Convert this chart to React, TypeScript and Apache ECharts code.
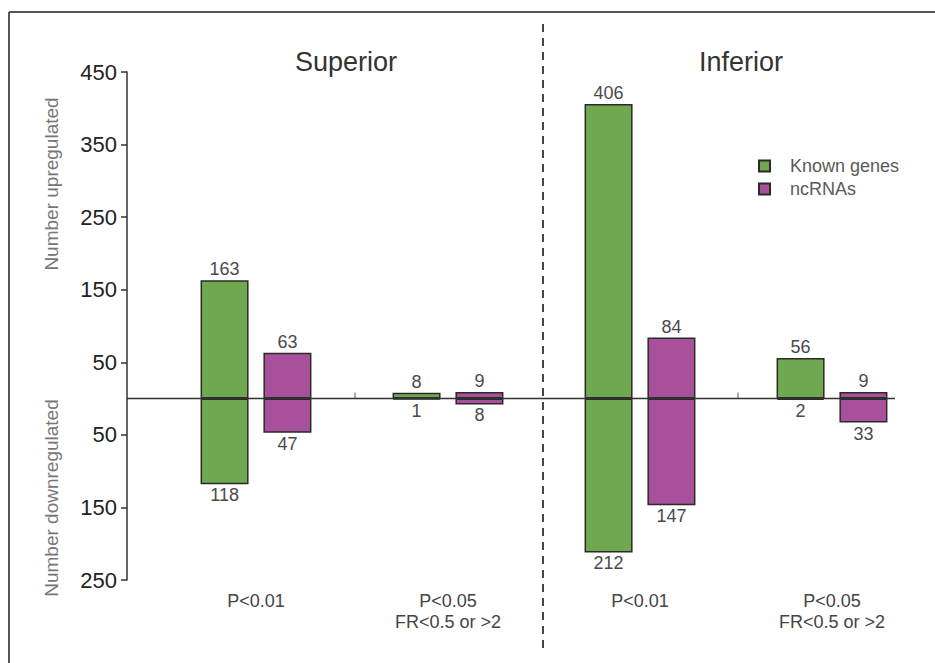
import React, { useEffect, useRef } from 'react';
import * as echarts from 'echarts';

const categories = ['P<0.01', 'P<0.05\nFR<0.5 or >2', 'P<0.01', 'P<0.05\nFR<0.5 or >2'];
const knownUp = [163, 8, 406, 56];
const knownDown = [118, 1, 212, 2];
const ncUp = [63, 9, 84, 9];
const ncDown = [47, 8, 147, 33];
const yTicks = [-250, -150, -50, 50, 150, 250, 350, 450];
const panelTitles = ['Superior', 'Inferior'];
const seriesNames = ['Known genes', 'ncRNAs'];
const yNames = ['Number upregulated', 'Number downregulated'];

const GREEN = '#6fa84e';
const MAGENTA = '#a8509c';
const FONT = 'Liberation Sans, Arial, sans-serif';

export default function App() {
  const ref = useRef<HTMLDivElement>(null);
  useEffect(() => {
    if (!ref.current) return;
    const chart = echarts.init(ref.current, null, { renderer: 'svg' });
    const mk = (name: string, data: number[], stack: string, color: string, pos: string) => ({
      type: 'bar',
      name,
      stack,
      data,
      barWidth: 48,
      barGap: '31%',
      itemStyle: { color, borderColor: '#2a2a2a', borderWidth: 1.5 },
      label: {
        show: true,
        position: pos,
        distance: 2,
        fontSize: 18,
        color: '#4a4a4a',
        fontFamily: FONT,
        formatter: (p: any) => String(Math.abs(p.value)),
      },
    });
    const option: any = {
      animation: false,
      backgroundColor: '#fff',
      textStyle: { fontFamily: FONT },
      grid: { left: 160, right: 7, top: 72, bottom: 83 },
      legend: {
        data: seriesNames,
        orient: 'vertical',
        left: 753,
        top: 152,
        itemWidth: 11,
        itemHeight: 11,
        itemGap: 5,
        icon: 'rect',
        textStyle: { fontSize: 18, color: '#5a5a5a', padding: [0, 0, 0, 15], fontFamily: FONT },
      },
      xAxis: {
        type: 'category',
        data: categories,
        axisLine: { show: false },
        axisTick: { show: false },
        axisLabel: { interval: 0, fontSize: 18, lineHeight: 21, color: '#444', margin: 10, fontFamily: FONT },
      },
      yAxis: {
        type: 'value',
        min: -250,
        max: 450,
        offset: 33,
        splitLine: { show: false },
        axisLine: { show: true, lineStyle: { color: '#333', width: 1.5 } },
        axisTick: { show: true, inside: false, length: 6, customValues: yTicks, lineStyle: { color: '#333', width: 1.5 } },
        axisLabel: {
          customValues: yTicks,
          formatter: (v: number) => String(Math.abs(v)),
          fontSize: 22,
          color: '#222',
          margin: 10,
          fontFamily: FONT,
        },
      },
      series: [
        mk(seriesNames[0], knownUp, 'known', GREEN, 'top'),
        mk(seriesNames[0], knownDown.map((v) => -v), 'known', GREEN, 'bottom'),
        mk(seriesNames[1], ncUp, 'nc', MAGENTA, 'top'),
        mk(seriesNames[1], ncDown.map((v) => -v), 'nc', MAGENTA, 'bottom'),
      ],
    };
    chart.setOption(option);

    const cx = (i: number) => chart.convertToPixel({ xAxisIndex: 0 }, i) as number;
    const cy = (v: number) => chart.convertToPixel({ yAxisIndex: 0 }, v) as number;
    const band = cx(1) - cx(0);
    const gridLeft = cx(0) - band / 2;
    const axisX = gridLeft - 33;
    const y0 = cy(0);
    const b1 = (cx(0) + cx(1)) / 2;
    const b2 = (cx(1) + cx(2)) / 2;
    const b3 = (cx(2) + cx(3)) / 2;
    const stroke = '#333';

    chart.setOption({
      graphic: [
        { type: 'line', shape: { x1: 9, y1: 12, x2: 935, y2: 12 }, style: { stroke: '#555', lineWidth: 2 } },
        { type: 'line', shape: { x1: 9, y1: 12, x2: 9, y2: 663 }, style: { stroke: '#555', lineWidth: 2 } },
        { type: 'line', z: 10, shape: { x1: axisX, y1: y0, x2: cx(3) + 63, y2: y0 }, style: { stroke, lineWidth: 1.5 } },
        { type: 'line', shape: { x1: b1 + 3, y1: y0 - 6, x2: b1 + 3, y2: y0 }, style: { stroke: '#555', lineWidth: 1 } },
        { type: 'line', shape: { x1: b3 + 2, y1: y0 - 6, x2: b3 + 2, y2: y0 }, style: { stroke: '#555', lineWidth: 1 } },
        {
          type: 'line',
          shape: { x1: b2 - 1, y1: 24, x2: b2 - 1, y2: 650 },
          style: { stroke: '#444', lineWidth: 2, lineDash: [8, 6] },
        },
        {
          type: 'text',
          x: b1 - 6,
          y: 62,
          style: { text: panelTitles[0], fontSize: 27, fill: '#333', fontFamily: FONT, align: 'center', verticalAlign: 'middle' },
        },
        {
          type: 'text',
          x: b3 + 5,
          y: 62,
          style: { text: panelTitles[1], fontSize: 27, fill: '#333', fontFamily: FONT, align: 'center', verticalAlign: 'middle' },
        },
        {
          type: 'text',
          x: 51,
          y: 184,
          rotation: Math.PI / 2,
          style: { text: yNames[0], fontSize: 19, fill: '#777', fontFamily: FONT, align: 'center', verticalAlign: 'middle' },
        },
        {
          type: 'text',
          x: 51,
          y: 498,
          rotation: Math.PI / 2,
          style: { text: yNames[1], fontSize: 19, fill: '#777', fontFamily: FONT, align: 'center', verticalAlign: 'middle' },
        },
      ],
    });

    return () => chart.dispose();
  }, []);
  return (
    <div
      ref={ref}
      style={{ position: 'absolute', left: 0, top: 0, width: 935, height: 663, background: '#fff' }}
    />
  );
}
